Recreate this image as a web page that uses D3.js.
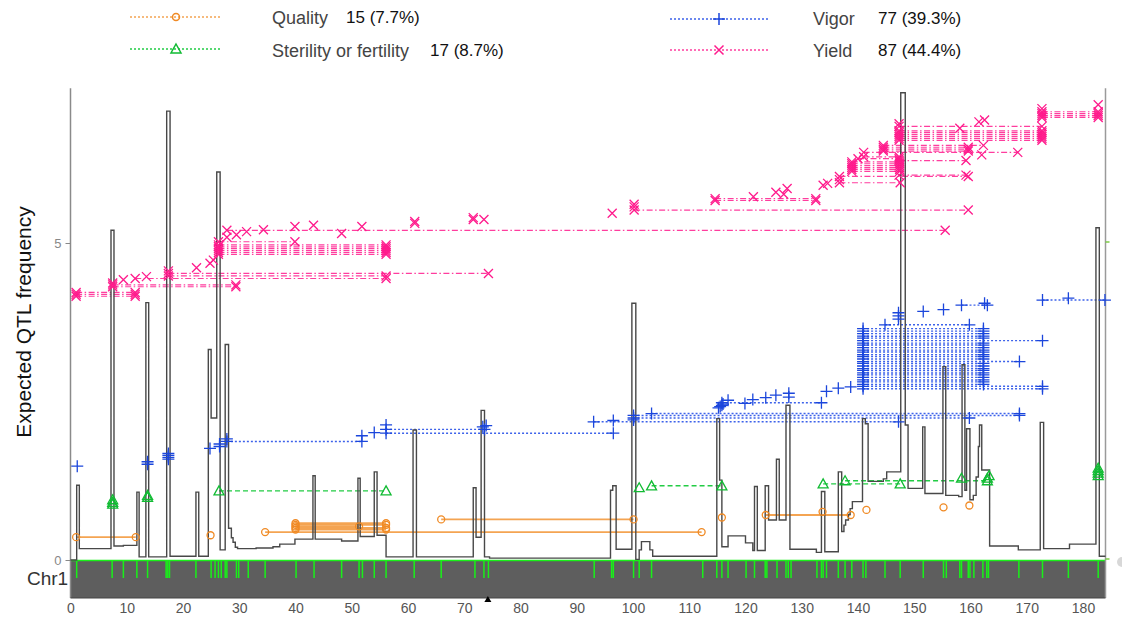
<!DOCTYPE html>
<html><head><meta charset="utf-8">
<script src="https://cdn.jsdelivr.net/npm/d3@7/dist/d3.min.js"></script>
<style>body{margin:0;background:#fff}svg{display:block}text{font-family:"Liberation Sans",Arial,sans-serif}</style>
</head><body>
<svg id="c" width="1122" height="617"></svg>
<script>
// ---------------- DATA ----------------
const xTickLabels = [0,10,20,30,40,50,60,70,80,90,100,110,120,130,140,150,160,170,180];
const yTickLabels = [0,5];
const chromName = "Chr1";
const chromLength = 184;
const yMax = 7.44;
const traitNames = ["Quality","Sterility or fertility","Vigor","Yield"];
const traitCounts = ["15 (7.7%)","17 (8.7%)","77 (39.3%)","87 (44.4%)"];
const centromere = 74.2;

// expected QTL frequency: step start positions (cM) and values
const curvePos = [0,1.1,1.57,7.2,7.73,9.4,11.8,12.2,13.4,13.9,17.1,17.7,22.3,22.8,24.5,25.0,26.0,26.6,27.5,28.1,28.6,28.9,29.3,29.7,33.0,36.0,37.2,39.9,43.1,43.5,48.2,51.1,51.5,54.0,54.5,56.1,60.9,61.5,71.6,72.1,73.0,73.6,74.5,
96.0,96.4,97.0,99.8,100.5,101.1,101.5,103.0,103.5,114.9,115.4,115.8,116.9,120.0,121.3,121.6,122.1,123.5,124.1,125.5,126.0,127.2,127.9,132.6,133.5,134.1,136.5,137.1,137.5,137.8,138.3,138.6,139.0,140.8,141.3,141.8,144.5,145.1,147.6,148.4,148.9,151.5,151.9,155.1,155.6,157.9,158.5,159.0,159.3,159.9,160.5,161.0,161.4,161.6,162.0,163.4,168.5,172.4,173.0,177.6,182.3,182.9];
const curveVal = [0,1.18,0.18,5.20,0.22,0.23,1.07,0.05,4.06,0.05,7.08,0.06,1.07,0.06,3.32,2.24,6.12,0.16,3.40,0.50,0.35,0.28,0.20,0.18,0.19,0.21,0.25,0.33,1.33,0.33,0.30,1.29,0.37,1.39,0.39,0.05,2.05,0.05,1.14,0.36,2.36,0.05,0.03,
1.10,1.17,0.17,4.05,0.01,0.16,0.29,0.16,0.06,2.23,1.26,0.21,0.38,0.27,0.15,1.16,0.15,1.17,0.63,1.59,0.63,2.44,0.17,0.12,1.08,0.13,1.39,0.45,0.55,0.63,0.72,0.81,0.92,2.23,2.15,1.24,1.28,1.39,7.37,2.13,1.13,2.10,1.05,3.05,1.02,1.00,3.08,1.10,2.07,0.95,1.02,1.31,1.79,2.13,1.42,0.22,0.16,2.17,0.18,0.25,5.24,0.06];

// genetic markers on the chromosome (cM)
const markerPos = [1.1,7.4,9.4,11.8,13.7,17.0,17.3,17.6,22.3,25.0,25.7,26.3,26.8,27.5,27.8,29.5,29.9,31.6,34.6,40.1,43.3,48.2,51.3,51.9,54.0,56.1,61.1,65.9,71.9,73.5,74.3,
93.1,96.2,96.5,100.1,101.1,103.3,112.4,114.9,115.8,116.9,120.1,121.6,123.5,123.8,125.6,127.2,127.6,128.1,132.7,133.5,133.8,134.4,136.5,137.7,138.9,140.9,141.4,144.8,147.5,151.6,155.2,155.7,158.1,158.4,159.6,159.9,160.6,162.2,162.9,163.2,168.6,172.8,177.4,182.7];

// QTL intervals: [start cM, end cM, plotted level]
const qualityQTL = [[1.0,11.6,0.36],[24.9,24.9,0.39],[34.6,112.2,0.44],
[40.0,56.1,0.48],[40.0,56.1,0.505],[40.0,51.3,0.53],[40.0,56.1,0.555],[40.0,56.1,0.58],
[65.9,100.1,0.64],[115.8,115.8,0.67],[123.6,138.7,0.71],[133.7,133.7,0.76],[141.5,141.5,0.79],[155.2,155.2,0.83],[159.8,159.8,0.86]];

const sterilityQTL = [[7.5,7.5,0.88],[7.5,7.5,0.91],[7.5,7.5,0.95],[13.7,13.7,0.99],[13.7,13.7,1.02],
[26.4,56.1,1.09],[101.1,101.1,1.14],[103.3,115.8,1.17],[133.8,147.5,1.20],[137.7,163.0,1.25],
[158.4,158.4,1.29],[163.0,163.0,1.29],[163.3,163.3,1.33],[182.7,182.7,1.33],[182.7,182.7,1.37],[182.7,182.7,1.41],[182.7,182.7,1.45]];

const vigorQTL = [[1.2,1.2,1.48],[13.7,13.7,1.51],[13.7,13.7,1.55],
[17.4,17.4,1.59],[17.4,17.4,1.62],[17.4,17.4,1.65],[17.4,17.4,1.68],
[24.8,24.8,1.76],[26.5,26.5,1.79],[26.5,26.5,1.83],[27.8,51.8,1.87],[27.8,27.8,1.91],
[51.8,51.8,1.96],[54.0,54.0,2.01],[56.1,56.1,2.13],[56.1,96.5,2.00],[56.1,73.6,2.06],[73.3,73.3,2.10],[73.9,73.9,2.12],
[93.0,147.2,2.18],[96.5,96.5,2.20],[100.1,159.8,2.24],[100.1,168.7,2.28],[100.1,100.1,2.21],[103.3,168.7,2.31],
[115.2,115.2,2.40],[115.5,115.5,2.42],[115.8,115.8,2.44],[116.0,116.0,2.46],[115.8,133.5,2.48],
[116.9,116.9,2.52],[119.9,119.9,2.47],[121.3,121.3,2.53],[123.6,123.6,2.56],[125.4,125.4,2.60],[127.7,127.7,2.63],[127.7,127.7,2.57],
[134.4,134.4,2.66],[136.5,136.5,2.71],[138.7,138.7,2.73],
[140.9,172.8,2.70],[140.9,172.8,2.74],[140.9,162.3,2.77],[140.9,162.3,2.81],[140.9,162.3,2.84],[140.9,162.3,2.88],[140.9,162.3,2.92],
[140.9,162.3,2.95],[140.9,162.3,2.99],[140.9,162.3,3.02],[140.9,162.3,3.06],[140.9,162.3,3.10],[140.9,168.7,3.13],[140.9,162.3,3.17],
[140.9,162.3,3.21],[140.9,162.3,3.24],[140.9,162.3,3.28],[140.9,162.3,3.31],[140.9,162.3,3.35],[140.9,162.3,3.39],[140.9,162.3,3.42],
[140.9,172.8,3.46],[140.9,162.3,3.50],[140.9,162.3,3.53],[140.9,162.3,3.57],[140.9,162.3,3.61],[140.9,162.3,3.65],
[144.8,159.8,3.71],[147.2,147.2,3.80],[147.2,147.2,3.85],[147.2,147.2,3.90],[151.6,151.6,3.92],[155.2,155.2,3.95],
[158.4,163.0,4.02],[162.5,162.5,4.05],[172.8,183.9,4.10],[177.4,177.4,4.13]];

const yieldQTL = [[1.0,11.5,4.16],[1.0,11.5,4.19],[1.0,11.5,4.22],
[7.5,29.4,4.31],[7.5,29.4,4.34],[7.5,7.5,4.37],[9.4,9.4,4.42],[11.5,56.1,4.44],[13.5,13.5,4.47],
[17.4,74.3,4.52],[17.4,56.1,4.48],[17.4,17.4,4.56],[22.4,22.4,4.61],[24.8,24.8,4.68],[25.4,25.4,4.73],
[26.3,56.1,4.82],[26.3,56.1,4.85],[26.3,56.1,4.88],[26.3,56.1,4.91],[26.3,56.1,4.94],[26.3,56.1,4.97],
[26.3,39.9,5.02],[27.8,155.5,5.20],[27.8,27.8,5.09],[29.5,29.5,5.13],[31.3,31.3,5.18],[34.3,34.3,5.21],
[39.9,39.9,5.26],[43.2,43.2,5.28],[48.2,48.2,5.15],[51.8,51.8,5.26],
[61.2,61.2,5.31],[61.2,61.2,5.34],[71.6,71.6,5.37],[71.6,71.6,5.40],[73.5,73.5,5.37],
[96.3,96.3,5.47],[100.2,159.6,5.52],[100.2,100.2,5.57],[100.2,100.2,5.61],
[114.6,132.5,5.67],[114.6,132.5,5.70],[121.4,121.4,5.73],[125.4,125.4,5.80],[126.8,126.8,5.77],[127.4,127.4,5.86],
[133.8,133.8,5.91],[134.6,134.6,5.94],[136.7,159.6,6.05],[136.7,147.5,5.95],[136.7,136.7,6.00],
[138.9,147.4,6.13],[138.9,147.4,6.16],[138.9,147.4,6.19],[138.9,147.4,6.22],[138.9,147.4,6.25],[138.9,147.4,6.28],
[140.0,147.3,6.33],[141.0,147.3,6.36],[141.0,168.4,6.43],[147.3,159.2,6.07],[147.3,159.2,6.30],
[144.5,159.6,6.45],[144.5,159.6,6.48],[144.5,159.6,6.51],[144.5,162.3,6.54],
[147.3,172.7,6.62],[147.3,172.7,6.65],[147.3,172.7,6.68],[147.3,172.7,6.71],[147.3,172.7,6.74],[147.3,172.7,6.77],
[147.3,172.7,6.84],[147.3,147.3,6.88],[158.1,158.1,6.81],[161.5,161.5,6.91],[162.5,162.5,6.94],[162.0,162.0,6.39],
[172.7,182.7,6.98],[172.7,182.7,7.01],[172.7,182.7,7.04],[172.7,182.7,7.07],[172.7,172.7,7.12],[182.7,182.7,7.18]];

// ---------------- DRAWING ----------------
const svg = d3.select("#c");
const x = d3.scaleLinear().domain([0, chromLength]).range([70.5, 1105.5]);
const y = d3.scaleLinear().domain([0, 5]).range([560, 243]);
const barTop = y(0), barBottom = 598, markerBottom = 578;

const styles = {
  Quality:   {line:"#f4a452", mark:"#f08a24", dash:null,        shape:"circle", w:1.8},
  Sterility: {line:"#22cc44", mark:"#11bb33", dash:"5,3",       shape:"triangle", w:1.4},
  Vigor:     {line:"#3d62ea", mark:"#1b46dc", dash:"2,2",       shape:"plus", w:1.4},
  Yield:     {line:"#ff3d9e", mark:"#ff1a8c", dash:"6,2.5,1.5,2.5", shape:"cross", w:1.2}
};
function shapePath(s){
  if(s==="plus") return "M-6,0H6M0,-6V6";
  if(s==="cross") return "M-4.5,-4.5L4.5,4.5M-4.5,4.5L4.5,-4.5";
  if(s==="triangle") return "M0,-5L5,4H-5Z";
  return d3.arc()({innerRadius:0,outerRadius:3.5,startAngle:0,endAngle:2*Math.PI});
}

// chromosome bar
svg.append("rect").attr("x", x(0)).attr("y", barTop).attr("width", x(chromLength)-x(0)).attr("height", barBottom-barTop).attr("fill","#5e5e5e");
svg.append("g").selectAll("line").data(markerPos).join("line")
  .attr("x1",d=>x(d)).attr("x2",d=>x(d)).attr("y1",barTop).attr("y2",markerBottom)
  .attr("stroke","#19f019").attr("stroke-width",1.5);
svg.append("line").attr("x1",x(0)).attr("x2",x(chromLength)).attr("y1",barTop+0.5).attr("y2",barTop+0.5).attr("stroke","#19f019").attr("stroke-width",1.5);

// axes lines
svg.append("line").attr("x1",x(0)).attr("x2",x(0)).attr("y1",y(yMax)).attr("y2",barBottom).attr("stroke","#8a8a8a").attr("stroke-width",1.5);
svg.append("line").attr("x1",x(chromLength)).attr("x2",x(chromLength)).attr("y1",y(yMax)).attr("y2",barBottom).attr("stroke","#9a9a9a").attr("stroke-width",1.5);
svg.append("line").attr("x1",x(0)).attr("x2",x(chromLength)).attr("y1",barBottom).attr("y2",barBottom).attr("stroke","#444").attr("stroke-width",1);
yTickLabels.forEach(v=>svg.append("line").attr("x1",x(chromLength)).attr("x2",x(chromLength)+4).attr("y1",y(v)-1).attr("y2",y(v)-1).attr("stroke","#7ccc44").attr("stroke-width",1.5));
svg.append("circle").attr("cx",1122).attr("cy",562).attr("r",5).attr("fill","#d8d8d8");

// x axis
const xAxis = svg.append("g").attr("transform",`translate(0,${barBottom})`)
  .call(d3.axisBottom(x).tickValues(xTickLabels).tickFormat(d3.format("d")).tickSize(0).tickPadding(5));
xAxis.select(".domain").remove();
xAxis.selectAll("text").attr("font-size",14).attr("fill","#555").attr("font-family","Liberation Sans, Arial");

// y axis
const yAxis = svg.append("g").attr("transform",`translate(${x(0)},0)`)
  .call(d3.axisLeft(y).tickValues(yTickLabels).tickFormat(d3.format("d")).tickSize(5).tickPadding(4));
yAxis.select(".domain").remove();
yAxis.selectAll("line").attr("stroke","#888");
yAxis.selectAll("text").attr("font-size",13).attr("fill","#888").attr("font-family","Liberation Sans, Arial");

// centromere triangle
svg.append("path").attr("d",`M${x(centromere)},596L${x(centromere)+3.5},602H${x(centromere)-3.5}Z`).attr("fill","#000");

// labels
svg.append("text").attr("transform","translate(31,322) rotate(-90)").attr("text-anchor","middle")
  .attr("font-size",21).attr("fill","#111").text("Expected QTL frequency");
svg.append("text").attr("x",27).attr("y",585).attr("font-size",19).attr("fill","#333").text(chromName);

// QTL lines
const traitData = [["Quality",qualityQTL],["Sterility",sterilityQTL],["Vigor",vigorQTL],["Yield",yieldQTL]];
const gLines = svg.append("g");
traitData.forEach(([k,data])=>{
  const st = styles[k];
  gLines.append("g").selectAll("line").data(data.filter(d=>d[1]>d[0])).join("line")
    .attr("x1",d=>x(d[0])).attr("x2",d=>x(d[1])).attr("y1",d=>y(d[2])).attr("y2",d=>y(d[2]))
    .attr("stroke",st.line).attr("stroke-width",st.w)
    .attr("stroke-dasharray",st.dash);
});

// expected QTL frequency curve
const curveData = curvePos.map((p,i)=>[p,curveVal[i]]).concat([[chromLength,curveVal[curveVal.length-1]]]);
svg.append("path").datum(curveData)
  .attr("d", d3.line().x(d=>x(d[0])).y(d=>y(d[1])).curve(d3.curveStepAfter))
  .attr("fill","none").attr("stroke","#484848").attr("stroke-width",1.4);

// markers
const gMarks = svg.append("g");
traitData.forEach(([k,data])=>{
  const st = styles[k];
  const pts = [];
  data.forEach(d=>{ pts.push([d[0],d[2]]); if(d[1]>d[0]) pts.push([d[1],d[2]]); });
  gMarks.append("g").selectAll("path").data(pts).join("path")
    .attr("d",shapePath(st.shape))
    .attr("transform",d=>`translate(${x(d[0])},${y(d[1])})`)
    .attr("fill","none").attr("stroke",st.mark).attr("stroke-width",1.3);
});

// legend
const legendItems = [
  {k:"Quality",  x0:130,x1:222,ly:17,tx:272,nx:346,ty:24},
  {k:"Sterility",x0:130,x1:222,ly:49,tx:272,nx:430,ty:57},
  {k:"Vigor",    x0:670,x1:768,ly:19,tx:813,nx:878,ty:25},
  {k:"Yield",    x0:670,x1:768,ly:50,tx:813,nx:878,ty:57}
];
legendItems.forEach((it,i)=>{
  const st = styles[it.k];
  svg.append("line").attr("x1",it.x0).attr("x2",it.x1).attr("y1",it.ly).attr("y2",it.ly)
    .attr("stroke",st.line).attr("stroke-width",1.5).attr("stroke-dasharray","2,2");
  svg.append("path").attr("d",shapePath(st.shape)).attr("transform",`translate(${(it.x0+it.x1)/2},${it.ly})`)
    .attr("fill","none").attr("stroke",st.mark).attr("stroke-width",1.5);
  svg.append("text").attr("x",it.tx).attr("y",it.ty).attr("font-size",18).attr("fill","#444").text(traitNames[i]);
  svg.append("text").attr("x",it.nx).attr("y",it.ty-1).attr("font-size",17).attr("fill","#111").text(traitCounts[i]);
});
</script>
</body></html>
